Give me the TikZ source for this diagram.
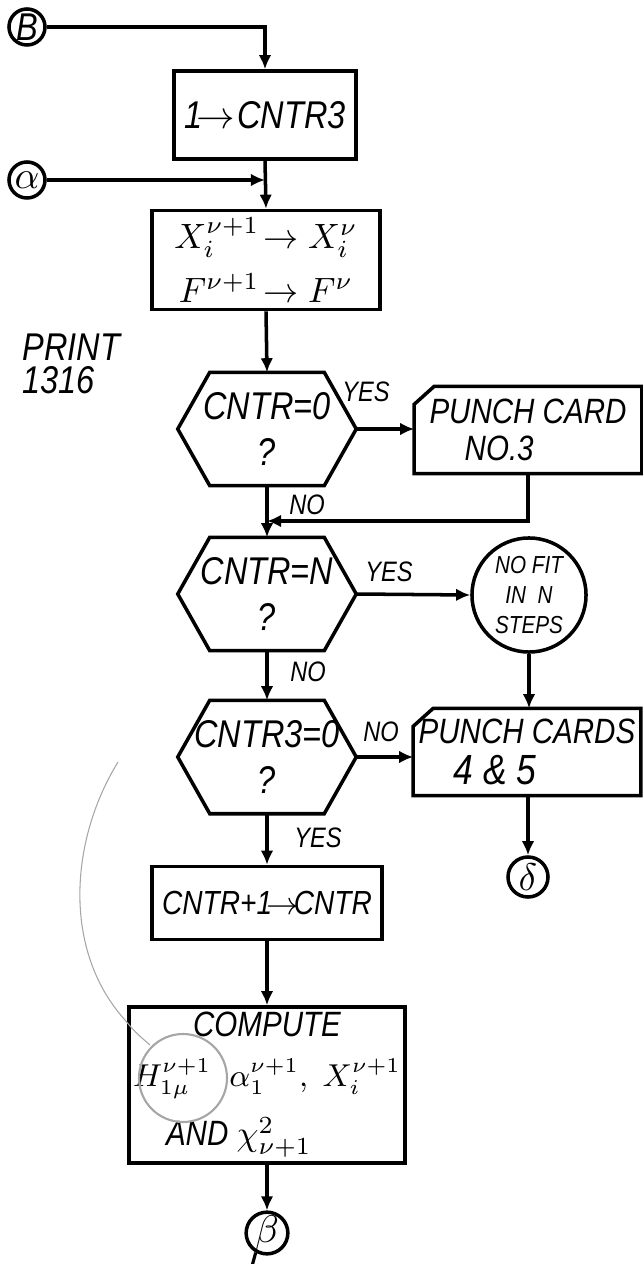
\documentclass[tikz,border=0pt]{standalone}
\usepackage{amsmath,amssymb}
\usepackage{fontspec}
\newfontfamily\hand{Liberation Sans}[FakeStretch=0.84]
\usepackage{tikz}
\usetikzlibrary{arrows.meta,positioning,calc}

\begin{document}
\begin{tikzpicture}[x=0.01cm,y=-0.01cm,>={Latex[length=4pt,width=3.6pt]},
  every node/.style={font=\hand\itshape\fontsize{11}{13}\selectfont},
  flow/.style={->,line width=1pt},
  procbox/.style={draw,line width=1pt,rectangle,inner sep=0pt,align=center},
  decision/.style={rectangle,inner sep=0pt,minimum width=1.77cm,minimum height=1.12cm,align=center},
  cardbox/.style={rectangle,inner sep=0pt,minimum width=2.26cm,minimum height=0.86cm,align=left,
    font=\hand\itshape\fontsize{10}{10.5}\selectfont},
  conn/.style={draw,circle,line width=1pt,inner sep=0pt,minimum size=0.36cm},
  tag/.style={font=\hand\itshape\fontsize{8}{10}\selectfont},
  pencil/.style={gray!70,line width=0.6pt}]
  \clip (0,0) rectangle (643,1264);
  % entry connectors and first boxes
  \node[conn] (cB) at (27,27) {B};
  \node[conn] (cA) at (27,180) {$\alpha$};
  \node[procbox,minimum width=1.82cm,minimum height=0.88cm] (cnt3) at (265,115) {1$\!\to\!$ CNTR3};
  \node[procbox,minimum width=2.28cm,minimum height=0.99cm,font=\hand\itshape\fontsize{10}{15.5}\selectfont] (swap) at (266,260)
    {$X_i^{\nu+1}\!\to X_i^{\nu}$\\$F^{\nu+1}\!\to F^{\nu}$};
  \node[anchor=west,align=left,font=\hand\itshape\fontsize{11}{9.5}\selectfont] (print) at (10,364) {PRINT\\1316};
  % tests
  \node[decision] (z0) at (267,429) {CNTR=0\\?};
  \node[decision] (zN) at (267,594) {CNTR=N\\?};
  \node[decision] (z3) at (267,757) {CNTR3=0\\?};
  \foreach \h in {z0,zN,z3}
    \draw[line width=1pt] (\h.west) -- ([xshift=0.32cm]\h.north west) -- ([xshift=-0.32cm]\h.north east)
      -- (\h.east) -- ([xshift=-0.32cm]\h.south east) -- ([xshift=0.32cm]\h.south west) -- cycle;
  % punch card branch
  \node[cardbox] (card3) at (528,430) {PUNCH CARD\\\quad NO.3};
  \node[draw,circle,line width=1pt,minimum size=1.14cm,inner sep=0pt,align=center,
    font=\hand\itshape\fontsize{7}{8.5}\selectfont] (nofit) at (529,595) {NO FIT\\IN\ \ N\\STEPS};
  \node[cardbox,font=\hand\itshape\fontsize{10}{11.5}\selectfont] (card45) at (527,752) {PUNCH CARDS\\\quad{\fontsize{12}{12}\selectfont 4 \& 5}};
  \foreach \c in {card3,card45}
    \draw[line width=1pt] ([yshift=-0.18cm]\c.north west) -- ([xshift=0.2cm]\c.north west)
      -- (\c.north east) -- (\c.south east) -- (\c.south west) -- cycle;
  \node[conn,minimum size=0.4cm] (cS) at (528,877) {$\delta$};
  % lower boxes
  \node[procbox,minimum width=2.30cm,minimum height=0.73cm,font=\hand\itshape\fontsize{9.5}{12}\selectfont] (inc) at (267,903) {CNTR+1$\!\to\!$CNTR};
  \node[procbox,minimum width=2.76cm,minimum height=1.56cm,font=\hand\itshape\fontsize{10}{14}\selectfont] (comp) at (267,1085)
    {COMPUTE\\{\fontsize{9}{14}\selectfont$H_{1\mu}^{\nu+1}\;\;\alpha_1^{\nu+1},\;X_i^{\nu+1}$}\\[3pt]AND $\chi^2_{\nu+1}$\hspace*{16pt}};
  \node[conn,minimum size=0.4cm] (cBeta) at (267,1233) {$\beta$};
  % connectors
  \draw[flow] (cB.east) -- (cB.east -| cnt3.north) -- (cnt3.north);
  \draw[flow] (cnt3.south) -- (swap.north);
  \coordinate (jA) at (cA.east -| cnt3.south);
  \draw[flow] (cA.east) -- (jA);
  \draw[flow] (swap.south) -- (z0.north);
  \draw[flow] (z0.east) -- (z0.east -| card3.west);
  \draw[flow] (z0.south) -- (zN.north);
  \coordinate (j3) at (267,521);
  \draw[flow] (card3.south) |- (j3);
  \draw[flow] (zN.east) -- (nofit.west);
  \draw[flow] (zN.south) -- (z3.north);
  \draw[flow] (nofit.south) -- (nofit.south |- card45.north);
  \draw[flow] (z3.east) -- (z3.east -| card45.west);
  \draw[flow] (z3.south) -- (inc.north);
  \draw[flow] (card45.south -| cS.north) -- (cS.north);
  \draw[flow] (inc.south) -- (comp.north);
  \draw[flow] (comp.south) -- (cBeta.north);
  \draw[line width=0.9pt] (cBeta.240) -- ++(-6,22);
  % branch labels
  \node[tag] (yes0) at (366,392) {YES};
  \node[tag] (no0) at (307,505) {NO};
  \node[tag] (yesN) at (389,572) {YES};
  \node[tag] (noN) at (308,672) {NO};
  \node[tag] (no3) at (381,732) {NO};
  \node[tag] (yes3) at (318,838) {YES};
  % pencil marks
  \draw[pencil] (183,1078) circle[radius=44];
  \draw[pencil,line width=0.3pt] (118,762) .. controls (70,840) and (62,950) .. (125,1020)
    .. controls (135,1032) .. (150,1045);
\end{tikzpicture}
\end{document}
